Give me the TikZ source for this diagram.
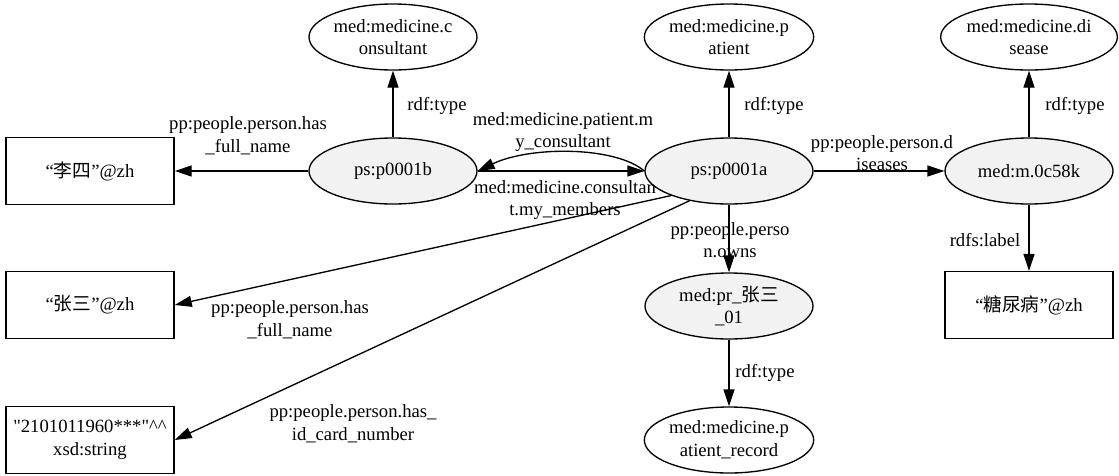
\documentclass[tikz,border=0pt]{standalone}
\usepackage{fontspec}
\setmainfont{Liberation Serif}
\newfontfamily\cjk{Noto Sans CJK SC}
\usetikzlibrary{shapes.geometric,arrows.meta}
\begin{document}
\begin{tikzpicture}[x=0.75pt,y=-0.75pt,
  font=\fontsize{14}{17}\selectfont,
  ent/.style={ellipse,draw,line width=1pt,fill=gray!10,minimum width=126pt,minimum height=49.5pt,inner sep=0pt,align=center},
  cls/.style={ellipse,draw,line width=1pt,fill=white,minimum width=126pt,minimum height=49.5pt,inner sep=0pt,align=center},
  lit/.style={rectangle,draw,line width=1.1pt,fill=white,minimum width=126pt,minimum height=50pt,inner sep=0pt,align=center},
  rel/.style={draw,line width=1pt,-{Triangle[length=12.75pt,width=8.25pt]}},
  lbl/.style={inner sep=0pt,align=center}]
\useasboundingbox (0,0) rectangle (1119,475);

% class nodes
\node[cls] (ct) at (393,37) {med:medicine.c\\onsultant};
\node[cls] (pt) at (729,37) {med:medicine.p\\atient};
\node[cls] (dt) at (1029,37) {med:medicine.di\\sease};
\node[cls] (prec) at (729,440) {med:medicine.p\\atient\_record};

% entity nodes
\node[ent] (pb) at (393,171) {ps:p0001b};
\node[ent] (pa) at (729,171) {ps:p0001a};
\node[ent] (dk) at (1029,171) {med:m.0c58k};
\node[ent] (pr) at (729,306) {med:pr\_{\cjk 张三}\\\_01};

% literal nodes
\node[lit] (lisi) at (90,171) {“{\cjk 李四}”@zh};
\node[lit] (zs) at (90,305) {“{\cjk 张三}”@zh};
\node[lit] (idb) at (90,440) {\textquotedbl 2101011960***\textquotedbl\textasciicircum\textasciicircum\\xsd:string};
\node[lit] (tnb) at (1029,305) {“{\cjk 糖尿病}”@zh};

% edges
\draw[rel] (pb.west) -- (lisi.east);
\draw[rel] (pb.north) -- (ct.south);
\draw[rel] (pa.north) -- (pt.south);
\draw[rel] (dk.north) -- (dt.south);
\draw[rel] (pa.east) -- (dk.west);
\draw[rel] (dk.south) -- (tnb.north);
\draw[rel] (pb.east) -- (pa.west);
\draw[rel] (pa.west) .. controls (615,146) and (530,146) .. (pb.east);
\draw[rel] (pa.203) -- (zs.east);
\draw[rel] (pa.217) -- (idb.east);
\draw[rel] (pa.south) -- (pr.north);
\draw[rel] (pr.south) -- (prec.north);

% edge labels
\node[lbl] (l1) at (248,136) {pp:people.person.has\\\_full\_name};
\node[lbl] (l2) at (437,106) {rdf:type};
\node[lbl] (l3) at (774,106) {rdf:type};
\node[lbl] (l4) at (1075,106) {rdf:type};
\node[lbl] (l5) at (563,132) {med:medicine.patient.m\\y\_consultant};
\node[lbl] (l6) at (565,200) {med:medicine.consultan\\t.my\_members};
\node[lbl] (l7) at (882,153) {pp:people.person.d\\iseases};
\node[lbl] (l8) at (985,240) {rdfs:label};
\node[lbl] (l9) at (730,240) {pp:people.perso\\n.owns};
\node[lbl] (l10) at (290,320) {pp:people.person.has\\\_full\_name};
\node[lbl] (l11) at (353,424) {pp:people.person.has\_\\id\_card\_number};
\node[lbl] (l12) at (765,373) {rdf:type};
\end{tikzpicture}
\end{document}
